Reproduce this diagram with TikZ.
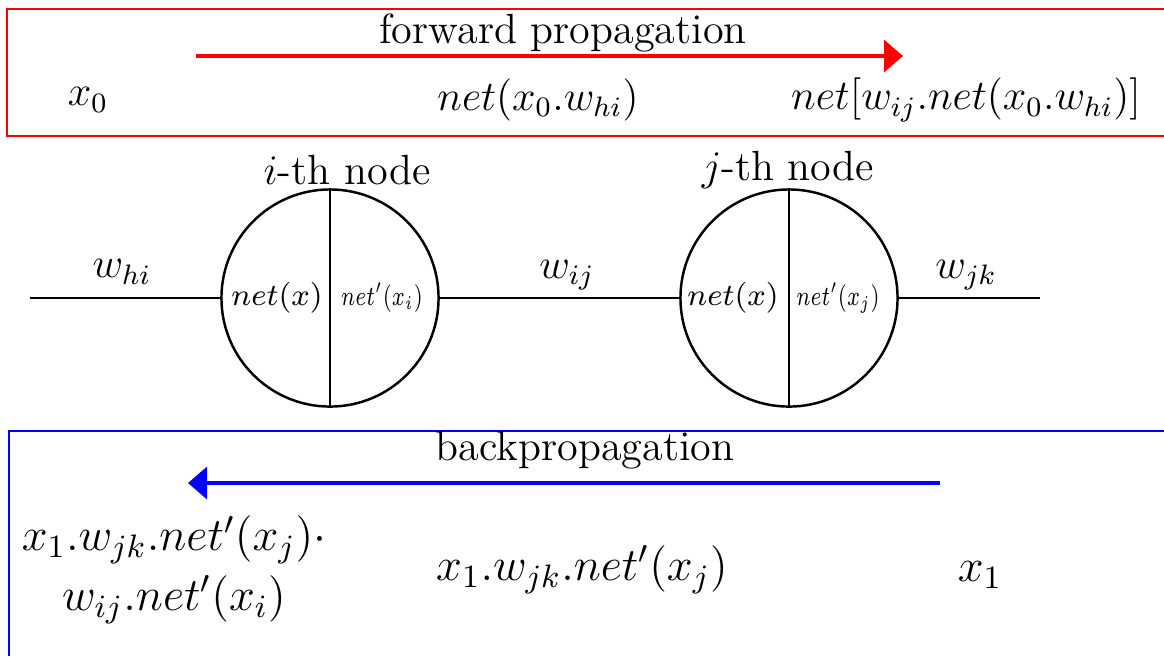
\RequirePackage{fix-cm}
\documentclass[tikz,border=0pt]{standalone}
\usepackage{graphicx}
\usetikzlibrary{arrows.meta,positioning}

\begin{document}
\begin{tikzpicture}[
  x=0.01cm, y=-0.01cm,
  lbl/.style={font=\fontsize{12}{14}\selectfont},
  expr/.style={font=\fontsize{12}{14}\selectfont},
  bexpr/.style={font=\fontsize{13.2}{16}\selectfont, align=center},
  neuron/.style={circle, draw, line width=0.7pt, minimum size=2.17cm, inner sep=0pt},
  lhalf/.style={font=\fontsize{8.8}{10}\selectfont},
  rhalf/.style={font=\fontsize{7.9}{9}\selectfont},
  link/.style={line width=0.7pt},
  frame/.style={line width=0.6pt},
  fwd/.style={red, line width=1pt, -{Triangle[length=1.9mm,width=3.2mm]}},
  bwd/.style={blue, line width=1pt, -{Triangle[length=1.9mm,width=3.2mm]}},
]

\def\Ci{330}   % centre of i-th node
\def\Cj{789}   % centre of j-th node
\def\Ly{298}   % level of the links

\useasboundingbox (0,0) rectangle (1164,656);

% ── Forward propagation ──
\draw[frame, red] (1164,9) -- (7,9) -- (7,136) -- (1164,136);
\node[lbl] (ftitle) at (563,33) {forward propagation};
\coordinate (fstart) at (196,56);
\coordinate (fend) at (903,56);
\draw[fwd] (fstart) -- (fend);
\node[expr] (f0) at (88,100) {$x_0$};
\node[expr] (f1) at (538,100) {$net(x_0.w_{hi})$};
\node[expr] (f2) at (966,100) {$net[w_{ij}.net(x_0.w_{hi})]$};

% ── Nodes ──
\node[neuron] (ni) at (\Ci,\Ly) {};
\node[neuron] (nj) at (\Cj,\Ly) {};
\draw[line width=0.5pt] (ni.north) -- (ni.south);
\draw[line width=0.5pt] (nj.north) -- (nj.south);
\node[lbl] (ti) at (347,170) {$i$-th node};
\node[lbl] (tj) at (788,170) {$j$-th node};
\node[lhalf] (ai) at (\Ci-53,\Ly) {$net(x)$};
\node[rhalf] (bi) at (\Ci+52,\Ly) {\scalebox{0.73}[1]{$net'(x_i)$}};
\node[lhalf] (aj) at (\Cj-56,\Ly) {$net(x)$};
\node[rhalf] (bj) at (\Cj+49,\Ly) {\scalebox{0.73}[1]{$net'(x_j)$}};

% ── Links ──
\coordinate (hin) at (30,\Ly);
\coordinate (kout) at (1040,\Ly);
\draw[link] (hin) -- (ni.west);
\draw[link] (ni.east) -- (nj.west);
\draw[link] (nj.east) -- (kout);
\node[expr] (whi) at (122,272) {$w_{hi}$};
\node[expr] (wij) at (567,275) {$w_{ij}$};
\node[expr] (wjk) at (966,275) {$w_{jk}$};

% ── Backpropagation ──
\draw[frame, blue] (1164,431) -- (9,431) -- (9,656);
\node[lbl] (btitle) at (585,450) {backpropagation};
\coordinate (bstart) at (940,483);
\coordinate (bend) at (188,483);
\draw[bwd] (bstart) -- (bend);
\node[bexpr] (b2) at (174,570) {$x_1.w_{jk}.net'(x_j)\cdot$\\[1pt] $w_{ij}.net'(x_i)$};
\node[bexpr] (b1) at (582,570) {$x_1.w_{jk}.net'(x_j)$};
\node[bexpr] (b0) at (980,575) {$x_1$};

\end{tikzpicture}
\end{document}
